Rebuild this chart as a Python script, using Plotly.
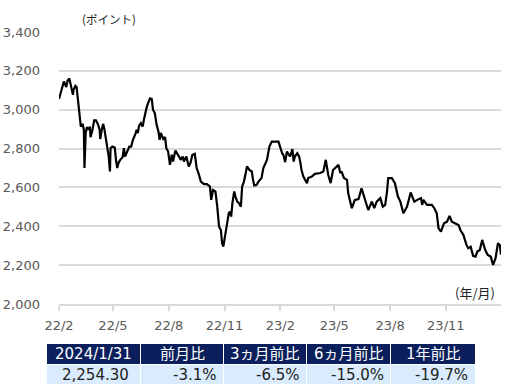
import pandas as pd
import plotly.graph_objects as go

# ---------------- data ----------------
start_date = "2022-02-01"
day_offsets = [
    0, 4, 8, 12, 14, 17, 20, 23, 24, 27, 29, 31, 33, 35, 36, 39, 41, 42, 44, 46,
    49, 51, 52, 55, 58, 61, 64, 67, 68, 71, 73, 75, 78, 80, 82, 84, 85, 88, 92, 94,
    96, 98, 101, 105, 107, 109, 112, 116, 119, 122, 126, 128, 130, 132, 135, 138, 140, 142, 145, 148,
    150, 153, 155, 158, 161, 164, 166, 168, 172, 175, 177, 180, 183, 186, 188, 192, 195, 198, 201, 204,
    206, 210, 214, 217, 220, 224, 227, 230, 234, 239, 244, 249, 251, 254, 258, 261, 264, 267, 269, 271,
    274, 276, 280, 282, 284, 286, 289, 291, 294, 297, 300, 302, 305, 308, 310, 314, 318, 320, 322, 326,
    329, 334, 337, 343, 345, 347, 351, 362, 368, 370, 373, 376, 381, 385, 387, 389, 393, 396, 398, 400,
    403, 409, 411, 417, 422, 431, 436, 440, 444, 448, 452, 455, 461, 464, 466, 470, 475, 477, 483, 488,
    494, 499, 505, 510, 516, 520, 524, 530, 534, 538, 541, 543, 549, 554, 559, 563, 568, 574, 580, 586,
    591, 597, 599, 601, 607, 615, 619, 623, 626, 630, 635, 640, 644, 648, 653, 659, 662, 667, 672, 675,
    679, 683, 687, 690, 694, 698, 703, 707, 712, 716, 720, 724, 727, 729,
]
index_values = [
    3055, 3103, 3145, 3117, 3149, 3161, 3117, 3077, 3103, 3123, 3117, 3060, 2983, 2931, 2913, 2927, 2897, 2700, 2880, 2910,
    2897, 2913, 2859, 2893, 2945, 2945, 2927, 2897, 2849, 2905, 2927, 2897, 2845, 2794, 2759, 2682, 2802, 2810, 2805, 2742,
    2700, 2725, 2742, 2756, 2802, 2759, 2785, 2810, 2810, 2845, 2876, 2897, 2880, 2917, 2931, 2913, 2948, 2983, 3017, 3042,
    3058, 3055, 3000, 2983, 2922, 2888, 2845, 2880, 2849, 2859, 2802, 2785, 2716, 2768, 2733, 2790, 2773, 2759, 2742, 2759,
    2733, 2759, 2708, 2728, 2768, 2773, 2700, 2674, 2630, 2617, 2617, 2604, 2536, 2587, 2579, 2501, 2398, 2381, 2313, 2295,
    2347, 2398, 2467, 2476, 2450, 2519, 2579, 2553, 2527, 2519, 2501, 2604, 2630, 2674, 2708, 2690, 2682, 2640, 2610, 2613,
    2630, 2648, 2700, 2742, 2768, 2810, 2836, 2836, 2776, 2768, 2730, 2785, 2759, 2797, 2733, 2759, 2776, 2760, 2730, 2690,
    2656, 2622, 2648, 2656, 2670, 2674, 2682, 2742, 2665, 2622, 2690, 2700, 2716, 2674, 2682, 2648, 2639, 2570, 2493, 2536,
    2540, 2596, 2527, 2484, 2527, 2493, 2527, 2545, 2501, 2510, 2579, 2648, 2648, 2622, 2553, 2527, 2467, 2501, 2574, 2527,
    2536, 2545, 2510, 2536, 2510, 2510, 2493, 2467, 2390, 2373, 2416, 2424, 2453, 2424, 2416, 2407, 2381, 2355, 2304, 2287,
    2295, 2248, 2244, 2270, 2278, 2330, 2278, 2253, 2244, 2201, 2236, 2313, 2304, 2254,
]
x_tick_dates = ["2022-02-01", "2022-05-01", "2022-08-01", "2022-11-01",
                "2023-02-01", "2023-05-01", "2023-08-01", "2023-11-01"]
x_tick_labels = ["22/2", "22/5", "22/8", "22/11", "23/2", "23/5", "23/8", "23/11"]
y_ticks = [2000, 2200, 2400, 2600, 2800, 3000, 3200, 3400]
y_unit_label = "(ポイント)"
x_unit_label = "(年/月)"
table_headers = ["2024/1/31", "前月比", "3ヵ月前比", "6ヵ月前比", "1年前比"]
table_values = ["2,254.30", "-3.1%", "-6.5%", "-15.0%", "-19.7%"]

# ---------------- layout constants ----------------
W, H = 529, 386
ML, MR, MT, MB = 59, 28, 32, 82
PW, PH = W - ML - MR, H - MT - MB
FONT = "DejaVu Sans, Noto Sans CJK JP, sans-serif"
JFONT = "Noto Sans CJK JP, DejaVu Sans, sans-serif"


def px_x(p):
    return (p - ML) / PW


def px_y(p):
    return (H - MB - p) / PH


dates = pd.Timestamp(start_date) + pd.to_timedelta(day_offsets, unit="D")

fig = go.Figure()
fig.add_trace(go.Scatter(
    x=dates, y=index_values, mode="lines",
    line=dict(color="#000000", width=2.2), showlegend=False,
))

# table
col_x0 = [47, 141, 224, 307, 391]
col_x1 = [140, 223, 306, 390, 475]
right_pad = [9, 4, 4, 4, 5]
shapes = []
annotations = []
for i in range(len(table_headers)):
    shapes.append(dict(type="rect", xref="paper", yref="paper",
                       x0=px_x(col_x0[i]), x1=px_x(col_x1[i]),
                       y0=px_y(364), y1=px_y(344),
                       fillcolor="#0b1f5c", line=dict(width=0), layer="above"))
    shapes.append(dict(type="rect", xref="paper", yref="paper",
                       x0=px_x(col_x0[i]), x1=px_x(col_x1[i]),
                       y0=px_y(384), y1=px_y(365),
                       fillcolor="#d9ebfc", line=dict(width=0), layer="above"))
    annotations.append(dict(xref="paper", yref="paper",
                            x=px_x((col_x0[i] + col_x1[i]) / 2), y=px_y(354),
                            text=table_headers[i], showarrow=False,
                            xanchor="center", yanchor="middle",
                            font=dict(family=FONT, size=15, color="#ffffff")))
    annotations.append(dict(xref="paper", yref="paper",
                            x=px_x(col_x1[i] - right_pad[i]), y=px_y(374.5),
                            text=table_values[i], showarrow=False,
                            xanchor="right", yanchor="middle",
                            font=dict(family=FONT, size=15, color="#222222")))

annotations.append(dict(xref="paper", yref="paper", x=px_x(80), y=px_y(18.5),
                        text=y_unit_label, showarrow=False, xanchor="left", yanchor="middle",
                        font=dict(family=JFONT, size=11.5, color="#222222")))
annotations.append(dict(xref="paper", yref="paper", x=px_x(497), y=px_y(292),
                        text=x_unit_label, showarrow=False, xanchor="right", yanchor="middle",
                        font=dict(family=JFONT, size=13, color="#222222")))

fig.update_layout(
    width=W, height=H,
    margin=dict(l=ML, r=MR, t=MT, b=MB, pad=0, autoexpand=False),
    paper_bgcolor="#ffffff", plot_bgcolor="#ffffff",
    shapes=shapes, annotations=annotations,
    font=dict(family=FONT, size=13, color="#595959"),
    xaxis=dict(
        type="date", range=["2022-02-01", "2024-01-31"],
        tickvals=x_tick_dates, ticktext=x_tick_labels,
        showgrid=False, zeroline=False, automargin=False,
        showline=True, linecolor="#d9d9d9", linewidth=1.5,
        ticks="outside", ticklen=5, tickcolor="#d9d9d9", tickwidth=1.5,
        ticklabelstandoff=4,
        tickfont=dict(family=FONT, size=13, color="#595959"),
    ),
    yaxis=dict(
        range=[2000, 3400], tickvals=y_ticks, tickformat=",",
        showgrid=True, gridcolor="#d9d9d9", gridwidth=1.5,
        zeroline=False, showline=False, ticks="", automargin=False,
        ticklabelstandoff=18,
        tickfont=dict(family=FONT, size=13, color="#595959"),
    ),
)

fig.write_html(
    "out.html",
    config={"displayModeBar": False},
    post_script="document.body.style.margin='0';document.body.style.padding='0';"
                "document.documentElement.style.overflow='hidden';",
)
